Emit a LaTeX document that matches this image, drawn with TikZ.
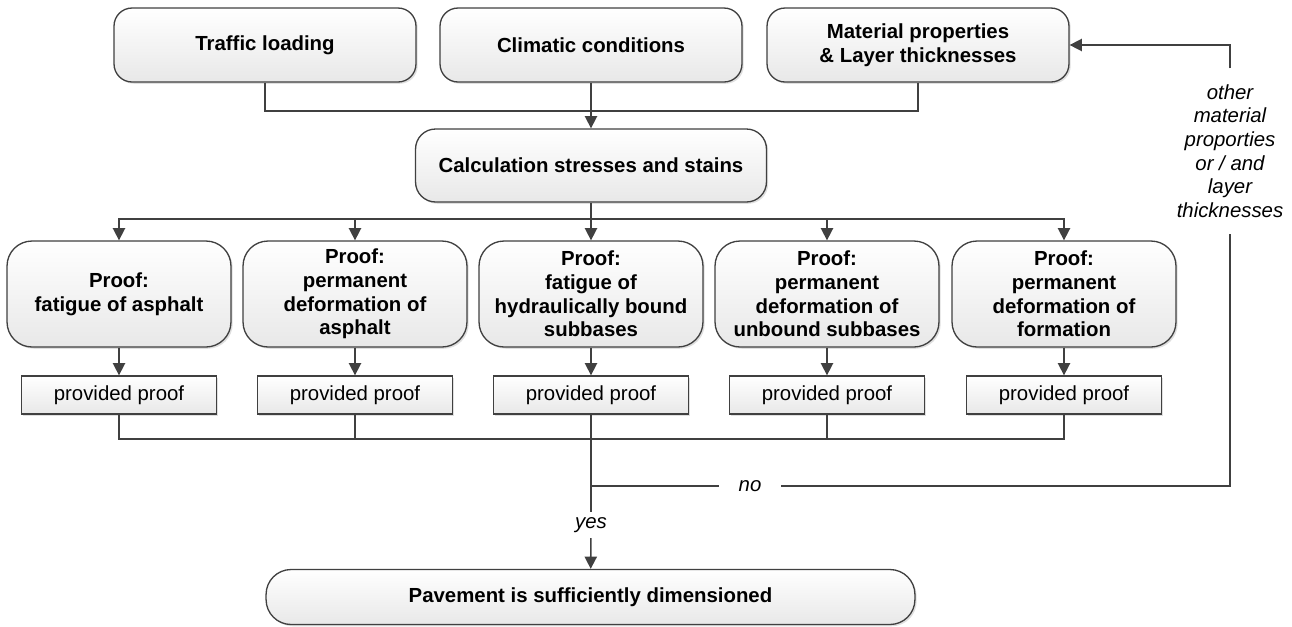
\documentclass[tikz,border=0pt]{standalone}
\usepackage{fontspec}
\setmainfont{Liberation Sans}
\usetikzlibrary{arrows.meta,shadows}
\definecolor{linegray}{HTML}{404040}
\tikzset{
  base/.style={draw=linegray, line width=0.75pt, top color=white, bottom color=black!9,
    drop shadow={shadow xshift=1pt, shadow yshift=-1pt, fill=black!25, opacity=0.5},
    align=center, inner sep=0pt, font=\fontsize{11.6}{13.4}\selectfont\bfseries},
  inputbox/.style={base, rounded corners=0.36cm, minimum width=6.04cm, minimum height=1.48cm},
  calcbox/.style={base, rounded corners=0.4cm, minimum width=7.02cm, minimum height=1.46cm},
  proofbox/.style={base, rounded corners=0.5cm, minimum width=4.48cm, minimum height=2.12cm},
  okbox/.style={base, minimum width=3.9cm, minimum height=0.76cm, font=\fontsize{11.6}{13.4}\selectfont},
  resultbox/.style={base, rounded corners=0.5cm, minimum width=12.98cm, minimum height=1.1cm},
  tag/.style={fill=white, font=\fontsize{11.6}{13.4}\selectfont\itshape, align=center},
  flow/.style={draw=linegray, line width=0.9pt},
  arrow/.style={flow, -{Triangle[length=7pt,width=7pt]}}
}
\begin{document}
\begin{tikzpicture}[x=0.02cm, y=-0.02cm]
        \useasboundingbox (0,0) rectangle (1292,626);
        % Draw nodes
        % Draw input nodes explicitly
        \node[inputbox] (traffic) at (265,45) {Traffic loading};
        \node[inputbox] (climate) at (591,45) {Climatic conditions};
        \node[inputbox] (material) at (918,45) {Material properties\\\& Layer thicknesses};
        \node[calcbox] (calc) at (591,165.5) {Calculation stresses and stains};

        % Draw proof nodes explicitly
        \node[proofbox] (proof1) at (119,294) {Proof:\\fatigue of asphalt};
        \node[proofbox] (proof2) at (355,294) {Proof:\\permanent\\deformation of\\asphalt};
        \node[proofbox] (proof3) at (591,294) {Proof:\\fatigue of\\hydraulically bound\\subbases};
        \node[proofbox] (proof4) at (827,294) {Proof:\\permanent\\deformation of\\unbound subbases};
        \node[proofbox] (proof5) at (1064,294) {Proof:\\permanent\\deformation of\\formation};
        \node[okbox] (ok1) at (119,395) {provided proof};
        \node[okbox] (ok2) at (355,395) {provided proof};
        \node[okbox] (ok3) at (591,395) {provided proof};
        \node[okbox] (ok4) at (827,395) {provided proof};
        \node[okbox] (ok5) at (1064,395) {provided proof};
        \node[resultbox] (result) at (590.5,597) {Pavement is sufficiently dimensioned};

        % Draw labels
        \node[tag, inner xsep=4pt, inner ysep=9pt] (other) at (1230,151) {other\\material\\proporties\\or / and\\layer\\thicknesses};
        \node[tag, inner xsep=11pt, inner ysep=2pt] (no) at (750,486) {no};
        \node[tag, inner sep=3pt] (yes) at (591,525) {yes};

        % Junctions
        \coordinate (topjoin) at (591,111);
        \coordinate (split) at (591,219);
        \coordinate (merge) at (591,439);
        \coordinate (nofork) at (591,486);

        % Draw input edges explicitly
        \draw[flow] (traffic.south) |- (topjoin);
        \draw[flow] (material.south) |- (topjoin);
        \draw[arrow] (climate) -- (calc);

        % Draw split edges explicitly
        \draw[arrow] (calc) -- (proof3);
        \draw[arrow] (split) -| (proof1.north);
        \draw[arrow] (split) -| (proof2.north);
        \draw[arrow] (split) -| (proof4.north);
        \draw[arrow] (split) -| (proof5.north);

        % Draw proof edges explicitly
        \draw[arrow] (proof1) -- (ok1);
        \draw[arrow] (proof2) -- (ok2);
        \draw[arrow] (proof3) -- (ok3);
        \draw[arrow] (proof4) -- (ok4);
        \draw[arrow] (proof5) -- (ok5);

        % Draw merge edges explicitly
        \draw[flow] (ok1.south) |- (merge);
        \draw[flow] (ok2.south) |- (merge);
        \draw[flow] (ok3.south) -- (merge);
        \draw[flow] (ok4.south) |- (merge);
        \draw[flow] (ok5.south) |- (merge);

        % Draw decision edges explicitly
        \draw[flow] (merge) -- (yes);
        \draw[arrow] (yes) -- (result);
        \draw[flow] (nofork) -- (no);
        \draw[flow] (no) -| (other);
        \draw[arrow] (other) |- (material);
    \end{tikzpicture}
\end{document}
